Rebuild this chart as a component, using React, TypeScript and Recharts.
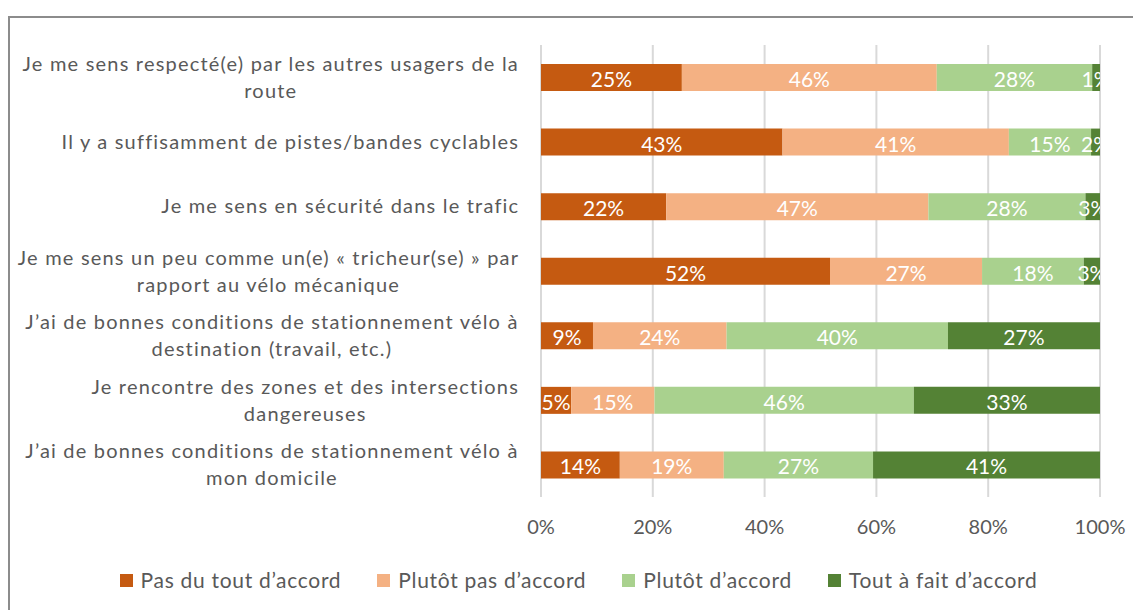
import React from 'react';
import { BarChart, Bar, XAxis, YAxis, CartesianGrid, LabelList } from 'recharts';

const categories = [
  'Je me sens respecté(e) par les autres usagers de la\nroute',
  'Il y a suffisamment de pistes/bandes cyclables',
  'Je me sens en sécurité dans le trafic',
  'Je me sens un peu comme un(e) « tricheur(se) » par\nrapport au vélo mécanique',
  'J’ai de bonnes conditions de stationnement vélo à\ndestination (travail, etc.)',
  'Je rencontre des zones et des intersections\ndangereuses',
  'J’ai de bonnes conditions de stationnement vélo à\nmon domicile',
];

const seriesNames = ['Pas du tout d’accord', 'Plutôt pas d’accord', 'Plutôt d’accord', 'Tout à fait d’accord'];
const seriesColors = ['#C55A11', '#F4B183', '#A9D18E', '#548235'];

const pasDuTout = [25.2, 43.2, 22.4, 51.7, 9.3, 5.4, 14.1];
const plutotPas = [45.6, 40.5, 46.9, 27.2, 23.9, 14.9, 18.6];
const plutot = [27.8, 14.7, 28.1, 18.2, 39.6, 46.4, 26.7];
const toutAFait = [1.4, 1.6, 2.6, 2.9, 27.2, 33.3, 40.6];

const xTicks = [0, 20, 40, 60, 80, 100];

const seriesValues = [pasDuTout, plutotPas, plutot, toutAFait];

const data = categories.map((name, i) => ({
  name,
  s0: pasDuTout[i],
  s1: plutotPas[i],
  s2: plutot[i],
  s3: toutAFait[i],
}));

const FONT = 'Lato, "Open Sans", sans-serif';
const TEXT = '#595959';
const CAT_SIZE = 20;
const CAT_SPACING = 1.2;

let ctx: CanvasRenderingContext2D | null = null;
function measure(t: string, size: number, spacing: number) {
  if (!ctx) ctx = document.createElement('canvas').getContext('2d');
  if (!ctx) return t.length * size * 0.5;
  ctx.font = `${size}px Lato`;
  return ctx.measureText(t).width + spacing * (t.length - 1);
}

const CategoryTick = (props: any) => {
  const { x, y, payload } = props;
  const lines = String(payload.value).split('\n');
  const w = Math.max(...lines.map((l) => measure(l, CAT_SIZE, CAT_SPACING)));
  const cx = x - w / 2;
  const lh = 27;
  const start = y - 1 - ((lines.length - 1) * lh) / 2;
  return (
    <g>
      {lines.map((l, i) => (
        <text
          key={i}
          x={cx + CAT_SPACING / 2}
          y={start + i * lh}
          textAnchor="middle"
          dominantBaseline="central"
          fill={TEXT}
          fontSize={CAT_SIZE}
          fontFamily={FONT}
          letterSpacing={CAT_SPACING}
        >
          {l}
        </text>
      ))}
    </g>
  );
};

const makeLabel = (si: number, clip: boolean) => (props: any) => {
  const { x, y, width, height, index } = props;
  const v = seriesValues[si][index];
  const cx = x + width / 2;
  const cy = y + height / 2;
  const text = (
    <text x={cx} y={cy + 1} textAnchor="middle" dominantBaseline="central" fill="#ffffff" fontSize={21} fontFamily={FONT}>
      {Math.round(v)}%
    </text>
  );
  if (!clip) return text;
  const id = `lblclip-${si}-${index}`;
  return (
    <g>
      <defs>
        <clipPath id={id}>
          <rect x={x - 80} y={y - 5} width={width + 80} height={height + 10} />
        </clipPath>
      </defs>
      <g clipPath={`url(#${id})`}>{text}</g>
    </g>
  );
};

export default function App() {
  return (
    <div style={{ position: 'absolute', left: 0, top: 0, width: 1133, height: 610, overflow: 'hidden', background: '#fff' }}>
      <div style={{ position: 'absolute', left: 8, top: 16, width: 1300, height: 800, border: '2px solid #8c8c8c', boxSizing: 'border-box' }} />
      <div style={{ position: 'absolute', left: 0, top: 0 }}>
        <BarChart width={1133} height={610} data={data} layout="vertical" margin={{ top: 45, right: 33, bottom: 83, left: 0 }}>
          <CartesianGrid horizontal={false} stroke="#d9d9d9" strokeWidth={2} />
          <XAxis
            type="number"
            domain={[0, 100]}
            ticks={xTicks}
            tickFormatter={(v: number) => `${v}%`}
            axisLine={false}
            tickLine={false}
            tickSize={0}
            tickMargin={23}
            height={30}
            tick={{ fill: TEXT, fontSize: 20, fontFamily: FONT }}
            interval={0}
          />
          <YAxis
            type="category"
            dataKey="name"
            width={541}
            axisLine={false}
            tickLine={false}
            tickSize={0}
            tickMargin={23}
            tick={<CategoryTick />}
            interval={0}
          />
          {seriesNames.map((n, si) => (
            <Bar key={n} dataKey={`s${si}`} name={n} stackId="a" fill={seriesColors[si]} barSize={27} isAnimationActive={false}>
              <LabelList dataKey={`s${si}`} content={makeLabel(si, si === 3)} />
            </Bar>
          ))}
        </BarChart>
      </div>
      <div
        style={{
          position: 'absolute',
          left: 12,
          width: 1133,
          top: 566,
          display: 'flex',
          justifyContent: 'center',
          gap: 36,
          fontFamily: FONT,
          fontSize: 21,
          letterSpacing: 0.7,
          color: TEXT,
          lineHeight: '28px',
        }}
      >
        {seriesNames.map((n, si) => (
          <div key={n} style={{ display: 'flex', alignItems: 'center' }}>
            <span style={{ display: 'inline-block', width: 13, height: 13, background: seriesColors[si], marginRight: 8 }} />
            <span>{n}</span>
          </div>
        ))}
      </div>
    </div>
  );
}
